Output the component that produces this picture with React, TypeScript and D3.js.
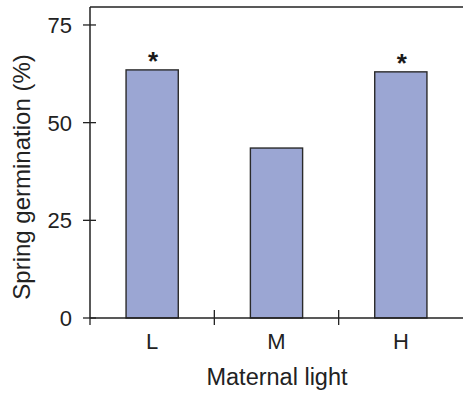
import {useEffect, useRef} from 'react'
import * as d3 from 'd3'

const categories = ['L', 'M', 'H']
const germination = [63.5, 43.5, 63]
const significant = [true, false, true]
const yTicks = [0, 25, 50, 75]

function App(){
    const svg = useRef<SVGSVGElement>(null)

    useEffect(() => {
        const width = 463
        const height = 393
        const left = 90
        const right = 463
        const top = 7
        const bottom = 318

        const x = d3.scaleBand()
            .domain(categories)
            .range([left, right])
            .paddingInner(0.58)
            .paddingOuter(0.29)

        const y = d3.scaleLinear()
            .domain([0, 79.6])
            .range([bottom, top])

        const root = d3.select(svg.current)
            .attr('width', width)
            .attr('height', height)
            .style('position', 'absolute')
            .style('left', 0)
            .style('top', 0)
            .style('font-family', '"Liberation Sans", Arial, sans-serif')

        root.selectAll('*').remove()
        const g = root.append('g')

        //Bars
        g.selectAll('rect.bar')
            .data(germination)
            .join('rect')
                .attr('class', 'bar')
                .attr('x', (d, i) => x(categories[i])!)
                .attr('y', d => y(d))
                .attr('width', x.bandwidth())
                .attr('height', d => y(0) - y(d))
                .attr('fill', '#9ba6d3')
                .attr('stroke', '#2a2a2a')
                .attr('stroke-width', 1.4)

        //Asterisks above the significant bars
        categories.forEach((c, i) => {
            if(!significant[i]) return
            g.append('text')
                .attr('x', x(c)! + x.bandwidth() / 2 + 1)
                .attr('y', y(germination[i]) + 0)
                .attr('text-anchor', 'middle')
                .attr('fill', '#1a1a1a')
                .style('font', 'bold 26px "Liberation Sans", Arial, sans-serif')
                .text('*')
        })

        //Frame: left axis, top line, bottom axis
        const axisColor = '#222'
        g.append('line').attr('x1', left).attr('x2', left).attr('y1', top).attr('y2', bottom)
            .attr('stroke', axisColor).attr('stroke-width', 1.5)
        g.append('line').attr('x1', left).attr('x2', right).attr('y1', top).attr('y2', top)
            .attr('stroke', axisColor).attr('stroke-width', 1.5)
        g.append('line').attr('x1', left).attr('x2', right).attr('y1', bottom).attr('y2', bottom)
            .attr('stroke', axisColor).attr('stroke-width', 1.5)

        //Y ticks
        yTicks.forEach(t => {
            g.append('line')
                .attr('x1', left - 7).attr('x2', left + 6)
                .attr('y1', y(t)).attr('y2', y(t))
                .attr('stroke', axisColor).attr('stroke-width', 1.3)
            g.append('text')
                .attr('x', left - 18)
                .attr('y', y(t))
                .attr('dy', '0.36em')
                .attr('text-anchor', 'end')
                .attr('fill', '#222')
                .style('font-size', '22px')
                .text(t)
        })

        //X ticks between categories
        const step = x.step()
        d3.range(1, categories.length).forEach(i => {
            const xt = left + step * i
            g.append('line')
                .attr('x1', xt).attr('x2', xt)
                .attr('y1', bottom - 8).attr('y2', bottom + 7)
                .attr('stroke', axisColor).attr('stroke-width', 1.3)
        })
        g.append('line')
            .attr('x1', left).attr('x2', left)
            .attr('y1', bottom).attr('y2', bottom + 7)
            .attr('stroke', axisColor).attr('stroke-width', 1.3)

        //Category labels
        g.selectAll('text.cat')
            .data(categories)
            .join('text')
                .attr('class', 'cat')
                .attr('x', d => x(d)! + x.bandwidth() / 2)
                .attr('y', 349)
                .attr('text-anchor', 'middle')
                .attr('fill', '#222')
                .style('font-size', '22px')
                .text(d => d)

        //Axis titles
        g.append('text')
            .attr('x', 277)
            .attr('y', 385)
            .attr('text-anchor', 'middle')
            .attr('fill', '#222')
            .style('font-size', '23.5px')
            .text('Maternal light')

        g.append('text')
            .attr('transform', `translate(30, 177) rotate(-90)`)
            .attr('text-anchor', 'middle')
            .attr('fill', '#222')
            .style('font-size', '24px')
            .text('Spring germination (%)')
    }, [])

    return (
        <svg ref={svg}></svg>
    )
}

export default App
